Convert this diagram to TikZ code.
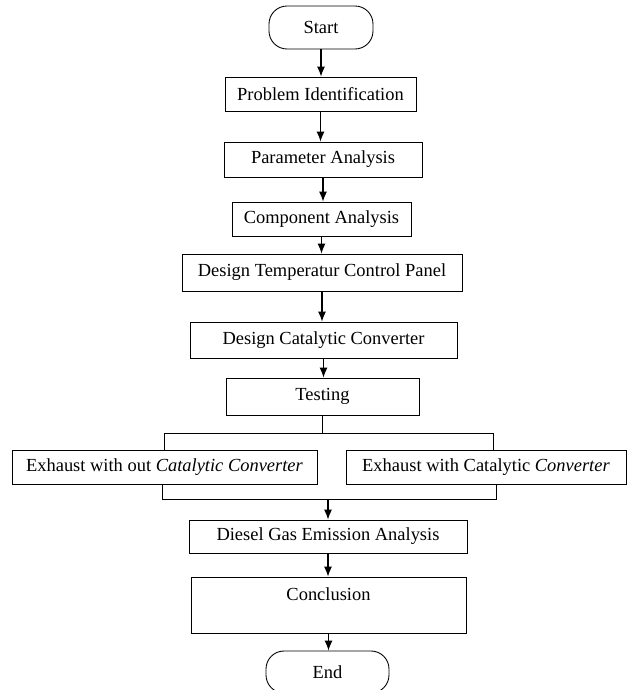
\documentclass[tikz,border=0pt]{standalone}
\usepackage{fontspec}
\setmainfont{Liberation Serif}
\usetikzlibrary{arrows.meta}
\tikzset{
  stepbox/.style={draw, rectangle, inner sep=0pt, line width=0.5pt},
  termbox/.style={draw, rectangle, rounded corners=0.36cm, inner sep=0pt, line width=0.5pt},
  arr/.style={-{Latex[length=2mm,width=1.6mm]}, line width=0.6pt},
}
\begin{document}
\begin{tikzpicture}[font=\fontsize{10.5}{12.5}\selectfont]
      \useasboundingbox (0,0) rectangle (12.54,-13.8);
      \node[termbox, minimum width=2.08cm, minimum height=0.86cm] (start) at (6.42,-0.55) {Start};
      \node[stepbox, minimum width=3.82cm, minimum height=0.68cm] (problem) at (6.41,-1.88) {Problem Identification};
      \node[stepbox, minimum width=3.96cm, minimum height=0.70cm] (parameter) at (6.46,-3.19) {Parameter Analysis};
      \node[stepbox, minimum width=3.58cm, minimum height=0.68cm] (component) at (6.43,-4.38) {Component Analysis};
      \node[stepbox, minimum width=5.60cm, minimum height=0.74cm] (panel) at (6.44,-5.45) {Design Temperatur Control Panel};
      \node[stepbox, minimum width=5.34cm, minimum height=0.72cm] (converter) at (6.47,-6.80) {Design Catalytic Converter};
      \node[stepbox, minimum width=3.86cm, minimum height=0.74cm] (testing) at (6.45,-7.93) {Testing};
      \node[stepbox, minimum width=6.10cm, minimum height=0.68cm] (without) at (3.29,-9.34) {Exhaust with out \textit{Catalytic Converter}};
      \node[stepbox, minimum width=5.60cm, minimum height=0.68cm] (with) at (9.72,-9.34) {Exhaust with Catalytic \textit{Converter}};
      \node[stepbox, minimum width=5.56cm, minimum height=0.66cm] (emission) at (6.56,-10.73) {Diesel Gas Emission Analysis};
      \node[stepbox, minimum width=5.50cm, minimum height=1.12cm, align=center] (conclusion) at (6.57,-12.10) {Conclusion\\\mbox{}};
      \node[termbox, minimum width=2.46cm, minimum height=0.84cm] (end) at (6.55,-13.44) {End};
      \begin{scope}[arr]
        \draw (start.south) -- (start.south |- problem.north);
        \draw (problem.south) -- (problem.south |- parameter.north);
        \draw (parameter.south) -- (parameter.south |- component.north);
        \draw (component.south) -- (component.south |- panel.north);
        \draw (panel.south) -- (panel.south |- converter.north);
        \draw (converter.south) -- (converter.south |- testing.north);
        \draw (emission.south) -- (emission.south |- conclusion.north);
        \draw (conclusion.south) -- (conclusion.south |- end.north);
      \end{scope}
      \draw[line width=0.5pt] (testing.south) -- ++(0,-0.36) coordinate (split);
      \draw[line width=0.5pt] (without.north) |- (split) -| ([xshift=0.14cm]with.north);
      \coordinate (merge) at (emission.north |- 0,-9.98);
      \draw[line width=0.5pt] ([xshift=-0.05cm]without.south) |- ([xshift=0.2cm]with.south |- merge) -- ([xshift=0.2cm]with.south);
      \draw[arr] (merge) -- (emission.north);
    \end{tikzpicture}
\end{document}
